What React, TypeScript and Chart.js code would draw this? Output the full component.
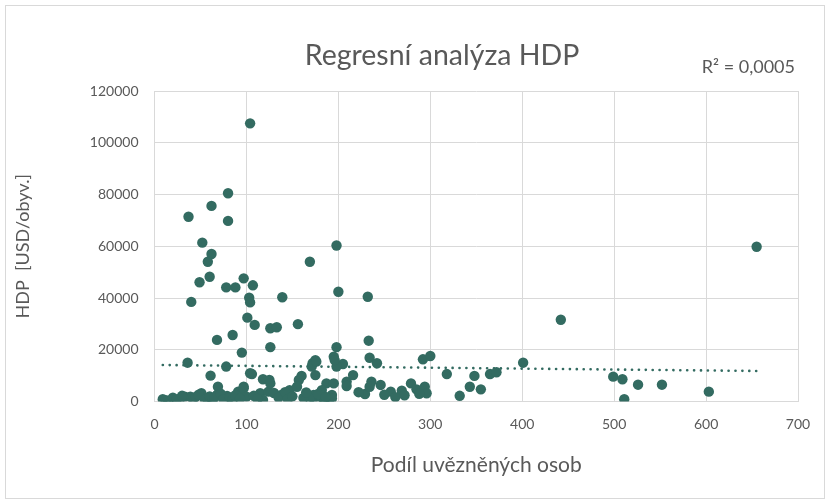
import React, { useEffect, useRef } from "react";
import { Chart, registerables } from "chart.js";

Chart.register(...registerables);

const chartTitle = "Regresní analýza HDP";
const rSquaredLabel = "R² = 0,0005";
const xAxisTitle = "Podíl uvězněných osob";
const yAxisTitle = "HDP  [USD/obyv.]";

// Podíl uvězněných osob (x) and HDP (y)
const prisonRate: number[] = [
  104, 80, 62, 37, 80, 52, 62, 58, 60, 49,
  78, 88, 97, 107, 103, 104, 40, 101, 109, 68,
  85, 126, 133, 139, 169, 198, 200, 232, 156, 233,
  442, 655, 95, 126, 198, 195, 205, 172, 175, 36,
  78, 61, 106, 118, 125, 160, 157, 175, 69, 97,
  209, 234, 242, 292, 300, 318, 348, 365, 372, 401,
  332, 343, 355, 257, 269, 279, 285, 294, 296, 246,
  236, 229, 234, 216, 209, 187, 193, 184, 173, 499,
  509, 511, 526, 552, 603, 104, 171, 176, 198, 9,
  15, 28, 33, 39, 51, 57, 68, 79, 91, 97,
  100, 115, 118, 124, 138, 147, 155, 173, 182, 191,
  126, 196, 195, 193, 169, 180, 185, 12, 20, 24,
  30, 42, 45, 48, 55, 60, 63, 65, 72, 75,
  82, 85, 88, 93, 108, 112, 130, 135, 142, 145,
  150, 162, 165, 178, 186, 222, 250, 262, 272, 288,
];
const gdpPerCapita: number[] = [
  107500, 80500, 75600, 71400, 69800, 61400, 57000, 54000, 48200, 46100,
  44100, 44100, 47600, 44900, 40100, 38300, 38500, 32400, 29600, 23800,
  25700, 28300, 28700, 40300, 54000, 60300, 42400, 40500, 29900, 23500,
  31600, 59800, 18900, 21000, 21000, 17300, 14500, 14800, 16000, 15000,
  13500, 10000, 10600, 8600, 8300, 9900, 8300, 10200, 5700, 5700,
  7700, 16900, 14800, 16300, 17600, 10600, 9900, 10600, 11300, 15000,
  2200, 5700, 4700, 3800, 4200, 7000, 4700, 5700, 3200, 6400,
  7700, 2900, 5700, 10200, 6000, 7000, 2500, 600, 1200, 9600,
  8600, 900, 6500, 6500, 3800, 10900, 13500, 15400, 13500, 900,
  300, 1200, 1900, 1900, 3200, 1200, 2500, 2100, 3800, 5100,
  1900, 3200, 600, 3800, 2500, 4400, 5700, 2500, 4400, 1200,
  7000, 16000, 7000, 1200, 1200, 1900, 300, 500, 1500, 700,
  2200, 900, 1800, 2600, 700, 2000, 400, 1400, 3000, 900,
  1600, 700, 2400, 1200, 2200, 1000, 3300, 1500, 3600, 900,
  2000, 1400, 3500, 2900, 1800, 3600, 2600, 1700, 2400, 3000,
];

// Linear trend line end points
const trendX: number[] = [9, 655];
const trendY: number[] = [14100, 11800];

const xTicks = { min: 0, max: 700, step: 100 };
const yTicks = { min: 0, max: 120000, step: 20000 };

const DOT = "#336B61";
const TEXT = "#595959";
const GRID = "#d9d9d9";
const FONT = "Lato, 'Open Sans', sans-serif";

export default function App() {
  const ref = useRef<HTMLCanvasElement | null>(null);

  useEffect(() => {
    if (!ref.current) return;
    const points = prisonRate.map((x, i) => ({ x, y: gdpPerCapita[i] }));
    const trend = trendX.map((x, i) => ({ x, y: trendY[i] }));

    const decor = {
      id: "decor",
      beforeDraw(chart: any) {
        const c = chart.ctx;
        c.save();
        c.fillStyle = "#ffffff";
        c.fillRect(0, 0, chart.width, chart.height);
        c.strokeStyle = GRID;
        c.lineWidth = 1;
        c.strokeRect(5.5, 5.5, 819, 493);
        c.restore();
      },
      afterDraw(chart: any) {
        const c = chart.ctx;
        c.save();
        c.fillStyle = TEXT;
        c.textBaseline = "middle";
        c.textAlign = "center";
        c.font = `400 28.5px ${FONT}`;
        c.fillText(chartTitle, 442, 56);
        c.textAlign = "right";
        c.font = `18px ${FONT}`;
        c.fillText(rSquaredLabel, 795, 67);
        c.restore();
      },
    };

    const chart = new Chart(ref.current, {
      type: "scatter",
      data: {
        datasets: [
          {
            data: points,
            backgroundColor: DOT,
            borderWidth: 0,
            pointRadius: 5.2,
            pointHoverRadius: 5.2,
          },
          {
            type: "line",
            data: trend,
            borderColor: DOT,
            borderWidth: 2.6,
            borderDash: [0.1, 6.8],
            borderCapStyle: "round",
            pointRadius: 0,
            fill: false,
          } as any,
        ],
      },
      options: {
        responsive: false,
        animation: false,
        events: [],
        layout: { padding: { left: 0, right: 32, top: 91, bottom: 25.5 } },
        plugins: {
          legend: { display: false },
          title: { display: false },
          tooltip: { enabled: false },
        },
        scales: {
          x: {
            type: "linear",
            min: xTicks.min,
            max: xTicks.max,
            afterFit: (s: any) => {
              s.height = 76;
            },
            ticks: {
              stepSize: xTicks.step,
              color: TEXT,
              font: { family: FONT, size: 14 },
              padding: 15,
              callback: (v: any) => String(v),
            },
            grid: { color: GRID, lineWidth: 1, drawTicks: false },
            border: { color: GRID },
            title: {
              display: true,
              text: xAxisTitle,
              color: TEXT,
              font: { family: FONT, size: 21 },
              padding: 0,
            },
          },
          y: {
            type: "linear",
            min: yTicks.min,
            max: yTicks.max,
            afterFit: (s: any) => {
              s.width = 154.5;
            },
            ticks: {
              stepSize: yTicks.step,
              color: TEXT,
              font: { family: FONT, size: 14 },
              padding: 16,
              callback: (v: any) => String(v),
            },
            grid: { color: GRID, lineWidth: 1, drawTicks: false },
            border: { color: GRID },
            title: {
              display: true,
              text: yAxisTitle,
              color: TEXT,
              font: { family: FONT, size: 18 },
              padding: { top: 12, bottom: 0 },
            },
          },
        },
      },
      plugins: [decor],
    });
    return () => chart.destroy();
  }, []);

  return (
    <div style={{ position: "absolute", left: 0, top: 0, width: 830, height: 503 }}>
      <canvas ref={ref} width={830} height={503} />
    </div>
  );
}
